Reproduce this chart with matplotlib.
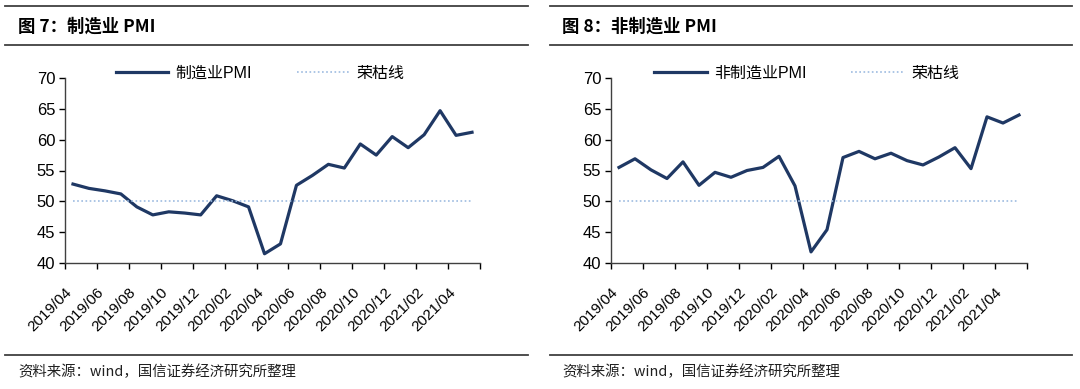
import matplotlib
matplotlib.use("Agg")
import matplotlib.pyplot as plt
from matplotlib.lines import Line2D
import numpy as np

plt.rcParams['font.family'] = ['Liberation Sans', 'Noto Sans CJK SC', 'DejaVu Sans']

# monthly data, 2019/04 - 2021/05
months = ['2019/04', '2019/05', '2019/06', '2019/07', '2019/08', '2019/09', '2019/10',
          '2019/11', '2019/12', '2020/01', '2020/02', '2020/03', '2020/04', '2020/05',
          '2020/06', '2020/07', '2020/08', '2020/09', '2020/10', '2020/11', '2020/12',
          '2021/01', '2021/02', '2021/03', '2021/04', '2021/05']
mfg_pmi = [52.8, 52.1, 51.7, 51.2, 49.1, 47.8, 48.3, 48.1, 47.8, 50.9, 50.1, 49.1, 41.5,
           43.1, 52.6, 54.2, 56.0, 55.4, 59.3, 57.5, 60.5, 58.7, 60.8, 64.7, 60.7, 61.2]
nonmfg_pmi = [55.5, 56.9, 55.1, 53.7, 56.4, 52.6, 54.7, 53.9, 55.0, 55.5, 57.3, 52.5, 41.8,
              45.4, 57.1, 58.1, 56.9, 57.8, 56.6, 55.9, 57.2, 58.7, 55.3, 63.7, 62.7, 64.0]
boom_bust = [50] * len(months)

panels = [
    ('图 7：制造业 PMI', '制造业PMI', mfg_pmi),
    ('图 8：非制造业 PMI', '非制造业PMI', nonmfg_pmi),
]

navy = '#1F3864'
dotted = '#9DBBE0'

fig = plt.figure(figsize=(10.8, 3.89), dpi=100)
W, H = 1080, 389

def fx(px):
    return px / W

def fy(py):
    return 1 - py / H

# panel geometry in pixels: (line start, line end, title x, axes left, axes right)
geo = [(5, 528, 18, 65, 480), (550, 1072, 562, 611, 1027)]

x = np.arange(len(months)) + 0.5
tick_pos = np.arange(0, len(months) + 1, 2)
tick_lbl = [months[i] if i < len(months) else '' for i in tick_pos]

for (title, name, vals), (l0, l1, tx, a0, a1) in zip(panels, geo):
    # header / footer rules
    for yy in (6, 45, 355):
        fig.add_artist(Line2D([fx(l0), fx(l1)], [fy(yy), fy(yy)], color='#404040', lw=1.3))
    fig.text(fx(tx), fy(27), title, fontsize=12.5, fontweight='bold',
             family=['Noto Sans CJK SC', 'DejaVu Sans'], va='center', ha='left')
    fig.text(fx(tx), fy(372), '资料来源：wind，国信证券经济研究所整理', fontsize=10.4,
             family=['Noto Sans CJK SC', 'DejaVu Sans'], va='center', ha='left', color='#202020')

    ax = fig.add_axes([fx(a0), fy(263), fx(a1 - a0), (263 - 78) / H])
    ax.plot(x, vals, color=navy, lw=2.3, label=name, solid_joinstyle='round')
    ax.plot(x, boom_bust, color=dotted, lw=1.2, ls=(0, (1, 1.5)), label='荣枯线')
    ax.set_xlim(0, len(months))
    ax.set_ylim(40, 70)
    ax.set_yticks(range(40, 71, 5))
    ax.set_xticks(tick_pos)
    ax.set_xticklabels(tick_lbl, rotation=45, ha='right', va='top',
                       rotation_mode='anchor', fontsize=11)
    ax.tick_params(axis='y', labelsize=12, length=4, width=1, direction='out', pad=3)
    ax.tick_params(axis='x', length=4, width=1, direction='out', pad=12)
    for s in ('top', 'right'):
        ax.spines[s].set_visible(False)
    for s in ('left', 'bottom'):
        ax.spines[s].set_color('#404040')
        ax.spines[s].set_linewidth(1)
    ax.legend(ncol=2, frameon=False, loc='lower center', bbox_to_anchor=(0.47, 0.95),
              fontsize=11.5, handlelength=3.3, columnspacing=2.8, handletextpad=0.45,
              borderaxespad=0)

fig.savefig('out.png', dpi=100)
